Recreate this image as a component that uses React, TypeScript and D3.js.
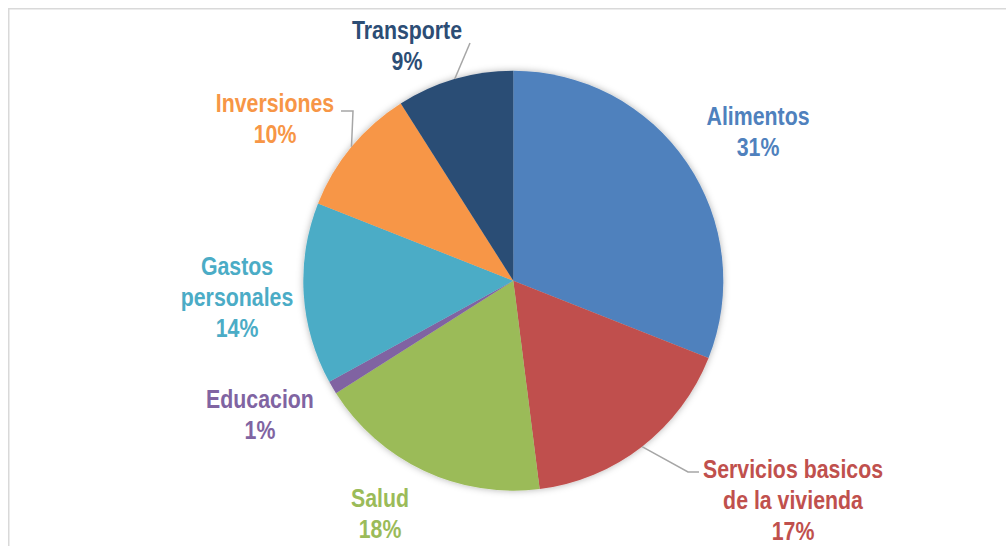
import React from "react";
import * as d3 from "d3";

// Distribución del gasto (%)
const categories = [
  "Alimentos",
  "Servicios basicos de la vivienda",
  "Salud",
  "Educacion",
  "Gastos personales",
  "Inversiones",
  "Transporte",
];
const shares = [31, 17, 18, 1, 14, 10, 9];
const labelLines = [
  ["Alimentos"],
  ["Servicios basicos", "de la vivienda"],
  ["Salud"],
  ["Educacion"],
  ["Gastos", "personales"],
  ["Inversiones"],
  ["Transporte"],
];
const colors = ["#4F81BD", "#C0504D", "#9BBB59", "#8064A2", "#4BACC6", "#F79646", "#2C4D75"];

const W = 1006;
const H = 546;
const cx = 513.3;
const cy = 280.7;
const R = 210;
const lineH = 31;
const narrow = 0.82; // Arial Narrow look from Liberation Sans

// label anchor: center x and first-line baseline
const labelPos: Record<string, { x: number; y: number }> = {
  Alimentos: { x: 758, y: 125 },
  "Servicios basicos de la vivienda": { x: 793, y: 478 },
  Salud: { x: 380, y: 507 },
  Educacion: { x: 260, y: 408 },
  "Gastos personales": { x: 237, y: 275 },
  Inversiones: { x: 275, y: 112 },
  Transporte: { x: 407, y: 39 },
};

// leader line bends (after the arc point)
const leaders: Record<string, [number, number][]> = {
  "Servicios basicos de la vivienda": [[688, 472], [699, 472]],
  Inversiones: [[353, 111], [341, 111]],
  Transporte: [[470, 43]],
};

export default function App() {
  const pie = d3
    .pie<number>()
    .sort(null)
    .value((d) => d);
  const arcs = pie(shares);
  const arc = d3.arc<d3.PieArcDatum<number>>().innerRadius(0).outerRadius(R);

  const edgePoint = (a: d3.PieArcDatum<number>): [number, number] => {
    const m = (a.startAngle + a.endAngle) / 2;
    return [cx + R * Math.sin(m), cy - R * Math.cos(m)];
  };

  const lineGen = d3.line();

  return (
    <svg
      width={W}
      height={H}
      style={{ position: "fixed", left: 0, top: 0, background: "#fff" }}
      fontFamily="'Liberation Sans', Arial, sans-serif"
      fontWeight="bold"
    >
      <defs>
        <filter id="pieShadow" x="-20%" y="-20%" width="140%" height="140%">
          <feDropShadow dx="0" dy="0" stdDeviation="3.5" floodColor="#000" floodOpacity="0.3" />
        </filter>
      </defs>
      <rect x={0} y={0} width={W} height={H} fill="#fff" />
      <rect x={8.75} y={8.75} width={1100} height={600} fill="none" stroke="#d9d9d9" strokeWidth={1.5} />

      <g transform={`translate(${cx},${cy})`} filter="url(#pieShadow)">
        {arcs.map((a, i) => (
          <path key={categories[i]} d={arc(a) || ""} fill={colors[i]} />
        ))}
      </g>

      {arcs.map((a, i) => {
        const pts = leaders[categories[i]];
        if (!pts) return null;
        const path = lineGen([edgePoint(a), ...pts]) || "";
        return (
          <path key={"l" + i} d={path} fill="none" stroke="#a6a6a6" strokeWidth={1.5} />
        );
      })}

      {arcs.map((a, i) => {
        const p = labelPos[categories[i]];
        const lines = [...labelLines[i], `${shares[i]}%`];
        return (
          <g key={"t" + i} transform={`translate(${p.x},0) scale(${narrow},1)`}>
            <text x={0} y={p.y} textAnchor="middle" fontSize={26} fill={colors[i]}>
              {lines.map((s, k) => (
                <tspan key={k} x={0} y={p.y + k * lineH}>
                  {s}
                </tspan>
              ))}
            </text>
          </g>
        );
      })}
    </svg>
  );
}
